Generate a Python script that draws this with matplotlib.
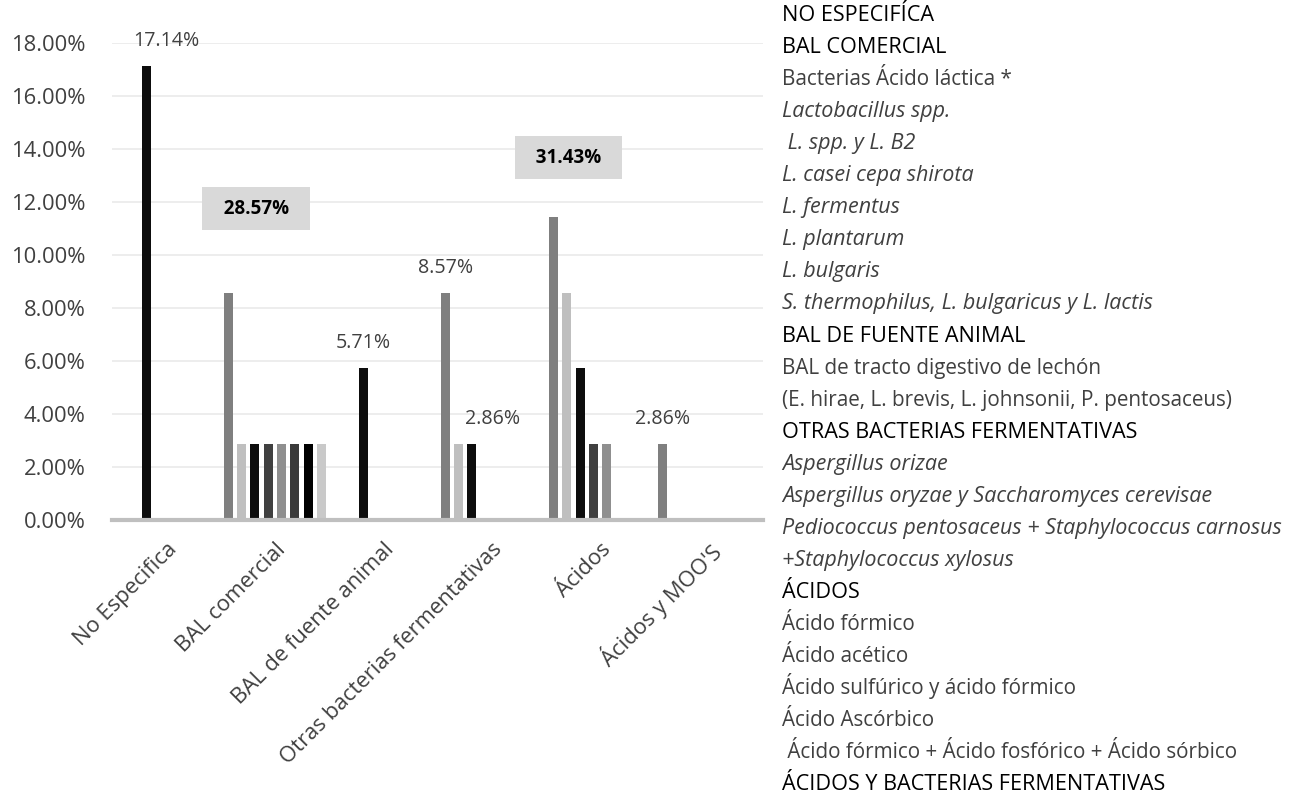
import numpy as np
import matplotlib
matplotlib.use("Agg")
import matplotlib.pyplot as plt

plt.rcParams['font.family'] = ['Open Sans', 'DejaVu Sans']

# categories on the x axis
categories = ["No Especifica", "BAL comercial", "BAL de fuente animal",
              "Otras bacterias fermentativas", "Ácidos", "Ácidos y MOO'S"]

# one series per position inside each group (percent)
s0 = [0.00, 8.57, 0.00, 8.57, 11.43, 2.86]
s1 = [0.00, 2.86, 0.00, 2.86, 8.57, 0.00]
s2 = [17.14, 2.86, 5.71, 2.86, 5.71, 0.00]
s3 = [0.00, 2.86, 0.00, 0.00, 2.86, 0.00]
s4 = [0.00, 2.86, 0.00, 0.00, 2.86, 0.00]
s5 = [0.00, 2.86, 0.00, 0.00, 0.00, 0.00]
s6 = [0.00, 2.86, 0.00, 0.00, 0.00, 0.00]
s7 = [0.00, 2.86, 0.00, 0.00, 0.00, 0.00]
series = [s0, s1, s2, s3, s4, s5, s6, s7]
colors = ["#7f7f7f", "#bfbfbf", "#0d0d0d", "#404040",
          "#8f8f8f", "#3a3a3a", "#000000", "#c9c9c9"]

# bars carrying a value label: (category, series)
labelled = [(0, 2), (2, 2), (3, 0), (3, 2), (5, 0)]
label_dx = [20, 0, 0, 21, 0]  # pixel shift of the label

# highlighted group totals
total_vals = [28.57, 31.43]
total_pos = [(1.327, 11.75), (4.207, 13.68)]

yticks = np.arange(0, 20, 2)

# right-hand text block
legend_lines = [
    "NO ESPECIFÍCA", "BAL COMERCIAL", "Bacterias Ácido láctica *",
    "Lactobacillus spp.", " L. spp. y L. B2", "L. casei cepa shirota",
    "L. fermentus", "L. plantarum", "L. bulgaris",
    "S. thermophilus, L. bulgaricus y L. lactis", "BAL DE FUENTE ANIMAL",
    "BAL de tracto digestivo de lechón",
    "(E. hirae, L. brevis, L. johnsonii, P. pentosaceus)",
    "OTRAS BACTERIAS FERMENTATIVAS", "Aspergillus orizae",
    "Aspergillus oryzae y Saccharomyces cerevisae",
    "Pediococcus pentosaceus + Staphylococcus carnosus",
    "+Staphylococcus xylosus", "ÁCIDOS", "Ácido fórmico", "Ácido acético",
    "Ácido sulfúrico y ácido fórmico", "Ácido Ascórbico",
    " Ácido fórmico + Ácido fosfórico + Ácido sórbico",
    "ÁCIDOS Y BACTERIAS FERMENTATIVAS",
]
legend_kind = ["h", "h", "n", "i", "i", "i", "i", "i", "i", "i", "h", "n", "n",
               "h", "i", "i", "i", "i", "h", "n", "n", "n", "n", "n", "h"]

fig = plt.figure(figsize=(13.04, 8), dpi=100)
ax = fig.add_axes([112 / 1304, 1 - 519.5 / 800, 651 / 1304, (519.5 - 43.3) / 800])

x = np.arange(len(categories))
slot = 0.1226
bw = 0.083
for k, (vals, c) in enumerate(zip(series, colors)):
    ax.bar(x + (k - 3.5) * slot + 0.5, vals, width=bw, color=c, zorder=3)

for (ci, si), dx in zip(labelled, label_dx):
    v = series[si][ci]
    ax.annotate(f"{v:.2f}%", (ci + (si - 3.5) * slot + 0.5, v),
                xytext=(dx, 25), textcoords="offset pixels",
                ha="center", va="center", fontsize=14.1, color="#404040",
                annotation_clip=False)

for (px, py), v in zip(total_pos, total_vals):
    ax.text(px, py, f"  {v:.2f}%  ", ha="center", va="center",
            fontsize=13.5, fontweight="bold", color="black", zorder=5,
            bbox=dict(boxstyle="square,pad=0.6", fc="#d9d9d9", ec="none"))

ax.set_xlim(0, len(categories))
ax.set_ylim(0, 18)
ax.set_yticks(yticks)
ax.set_yticklabels([f"{t:.2f}%" for t in yticks], fontsize=15.8, color="#404040")
ax.set_xticks(x + 0.5)
ax.set_xticklabels(categories, rotation=45, ha="right", va="top",
                   rotation_mode="anchor", fontsize=15.8, color="#404040")
ax.tick_params(axis="both", length=0)
ax.tick_params(axis="y", pad=19)
ax.tick_params(axis="x", pad=14)
ax.grid(axis="y", color="#ececec", lw=1.3, zorder=0)
for s in ["top", "right", "left"]:
    ax.spines[s].set_visible(False)
ax.spines["bottom"].set_color("#bfbfbf")
ax.spines["bottom"].set_linewidth(3)
ax.spines["bottom"].set_zorder(4)

for i, (txt, kind) in enumerate(zip(legend_lines, legend_kind)):
    y = 1 - (21 + 32.05 * i) / 800
    if kind == "h":
        fig.text(782 / 1304, y, txt, ha="left", va="baseline", fontsize=15.6,
                 color="black")
    elif kind == "i":
        fig.text(782 / 1304, y, txt, ha="left", va="baseline", fontsize=15.5,
                 color="#404040", style="italic")
    else:
        fig.text(782 / 1304, y, txt, ha="left", va="baseline", fontsize=14.9,
                 color="#404040")

fig.savefig("out.png", dpi=100)
